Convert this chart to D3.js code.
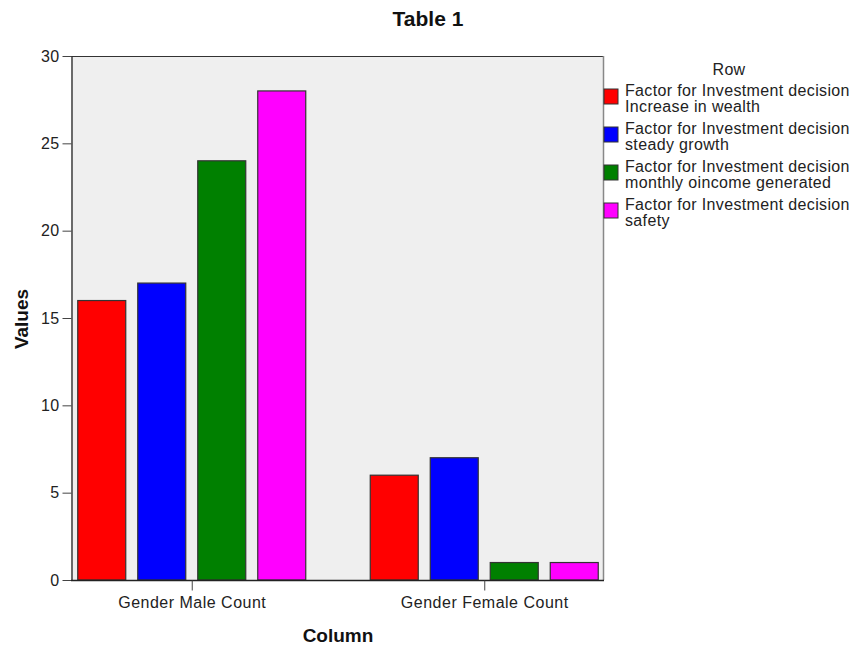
<!DOCTYPE html>
<html>
<head>
<meta charset="utf-8">
<script src="https://cdn.jsdelivr.net/npm/d3@7"></script>
<style>
  body { margin: 0; background: #fff; }
  text { font-family: "Liberation Sans", Arial, sans-serif; }
</style>
</head>
<body>
<svg id="chart" width="855" height="649"></svg>
<script>
// Counts per gender column, one array per investment-decision factor
const categories = ["Gender Male Count", "Gender Female Count"];
const seriesNames = [
  ["Factor for Investment decision", "Increase in wealth"],
  ["Factor for Investment decision", "steady growth"],
  ["Factor for Investment decision", "monthly oincome generated"],
  ["Factor for Investment decision", "safety"]
];
const increaseInWealth = [16, 6];
const steadyGrowth = [17, 7];
const monthlyIncome = [24, 1];
const safety = [28, 1];
const seriesValues = [increaseInWealth, steadyGrowth, monthlyIncome, safety];
const seriesColors = ["#ff0000", "#0000ff", "#008000", "#ff00ff"];
const yTicks = [0, 5, 10, 15, 20, 25, 30];

const svg = d3.select("#chart");
const plot = { left: 71, right: 603, top: 56, bottom: 580 };

// Plot background and frame
svg.append("rect")
  .attr("x", plot.left).attr("y", plot.top)
  .attr("width", plot.right - plot.left).attr("height", plot.bottom - plot.top)
  .attr("fill", "#efefef");

const y = d3.scaleLinear().domain([0, 30]).range([plot.bottom, plot.top]);
const x0 = d3.scalePoint().domain(categories).range([plot.left + 1, plot.right + 1]).padding(0.4094);
const x1 = d3.scaleBand().domain(d3.range(seriesValues.length)).range([-120, 120])
  .paddingInner(0.2).paddingOuter(0.1);

// Bars
const groups = svg.append("g").selectAll("g")
  .data(categories).join("g")
  .attr("transform", d => `translate(${x0(d)},0)`);

groups.selectAll("rect")
  .data((c, ci) => seriesValues.map((vals, si) => ({ si, v: vals[ci] })))
  .join("rect")
  .attr("x", d => x1(d.si))
  .attr("y", d => y(d.v))
  .attr("width", x1.bandwidth())
  .attr("height", d => y(0) - y(d.v))
  .attr("fill", d => seriesColors[d.si])
  .attr("stroke", "#333")
  .attr("stroke-width", 1.2);

// Top and right frame lines
svg.append("line").attr("x1", plot.left).attr("x2", plot.right)
  .attr("y1", plot.top + 0.5).attr("y2", plot.top + 0.5).attr("stroke", "#333");
svg.append("line").attr("x1", plot.right + 0.5).attr("x2", plot.right + 0.5)
  .attr("y1", plot.top).attr("y2", plot.bottom).attr("stroke", "#888").attr("stroke-width", 1.5);

// Y axis
const yAxis = d3.axisLeft(y).tickValues(yTicks).tickSize(9).tickPadding(3).tickSizeOuter(0);
const gy = svg.append("g").attr("transform", `translate(${plot.left + 0.5},0)`).call(yAxis);
gy.select(".domain").attr("stroke", "#222").attr("stroke-width", 1.3);
gy.selectAll(".tick line").attr("stroke", "#444");
gy.selectAll(".tick text").attr("font-size", 16).attr("letter-spacing", 0.3)
  .attr("fill", "#222").style("font-family", "Liberation Sans, Arial, sans-serif");

// X axis
const xAxis = d3.axisBottom(x0).tickSize(10).tickPadding(6).tickSizeOuter(0);
const gx = svg.append("g").attr("transform", `translate(0,${plot.bottom + 0.5})`).call(xAxis);
gx.select(".domain").attr("stroke", "#222").attr("stroke-width", 1.3)
  .attr("d", `M${plot.left},0H${plot.right + 1}`);
gx.selectAll(".tick line").attr("stroke", "#444");
gx.selectAll(".tick text").attr("font-size", 16).attr("letter-spacing", 0.5)
  .attr("fill", "#222").style("font-family", "Liberation Sans, Arial, sans-serif");

// Titles
svg.append("text").attr("x", 428).attr("y", 26).attr("text-anchor", "middle")
  .attr("font-size", 21).attr("font-weight", "bold").attr("fill", "#111").text("Table 1");
svg.append("text").attr("x", 338).attr("y", 642).attr("text-anchor", "middle")
  .attr("font-size", 19).attr("font-weight", "bold").attr("fill", "#111").text("Column");
svg.append("text").attr("transform", "translate(28,319) rotate(-90)").attr("text-anchor", "middle")
  .attr("font-size", 19).attr("font-weight", "bold").attr("fill", "#111").text("Values");

// Legend
const legend = svg.append("g");
legend.append("text").attr("x", 729).attr("y", 75).attr("text-anchor", "middle")
  .attr("font-size", 16).attr("letter-spacing", 0.3).attr("fill", "#222").text("Row");
const entry = legend.selectAll("g.entry").data(seriesNames).join("g")
  .attr("class", "entry")
  .attr("transform", (d, i) => `translate(0,${i * 38})`);
entry.append("rect").attr("x", 604).attr("y", 89).attr("width", 14).attr("height", 15)
  .attr("fill", (d, i) => seriesColors[i]).attr("stroke", "#333").attr("stroke-width", 1);
entry.append("text").attr("x", 625).attr("y", 96).attr("font-size", 16).attr("letter-spacing", 0.35)
  .attr("fill", "#222").text(d => d[0]);
entry.append("text").attr("x", 625).attr("y", 112).attr("font-size", 16).attr("letter-spacing", 0.35)
  .attr("fill", "#222").text(d => d[1]);
</script>
</body>
</html>
